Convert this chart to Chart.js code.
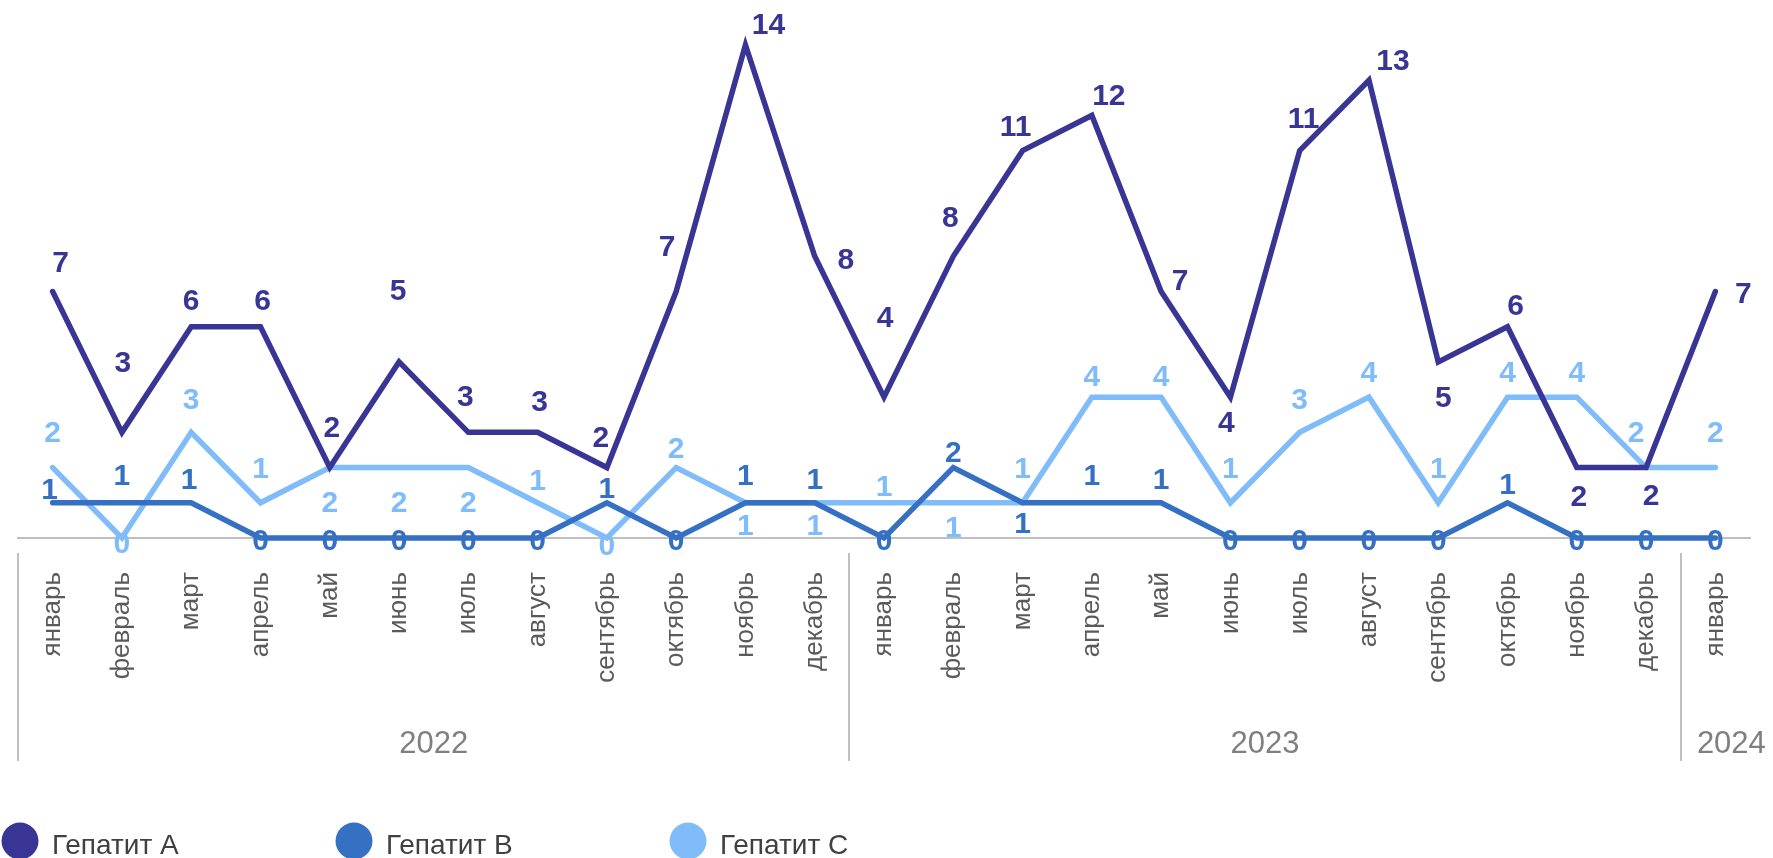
<!DOCTYPE html>
<html>
<head>
<meta charset="utf-8">
<script src="https://cdn.jsdelivr.net/npm/chart.js@4.4.1/dist/chart.umd.min.js"></script>
<style>
    html, body { margin: 0; padding: 0; background: #fff; }
</style>
</head>
<body>
<canvas id="chart" width="1773" height="858"></canvas>
<script>
// Categories: months from January 2022 to January 2024.
const months = [
    "январь", "февраль", "март", "апрель", "май", "июнь", "июль", "август", "сентябрь", "октябрь", "ноябрь", "декабрь",
    "январь", "февраль", "март", "апрель", "май", "июнь", "июль", "август", "сентябрь", "октябрь", "ноябрь", "декабрь",
    "январь"
];
const yearLabels = ["2022", "2023", "2024"];
const yearSpans = [12, 12, 1];

const seriesNames = ["Гепатит A", "Гепатит B", "Гепатит C"];
const hepA = [7, 3, 6, 6, 2, 5, 3, 3, 2, 7, 14, 8, 4, 8, 11, 12, 7, 4, 11, 13, 5, 6, 2, 2, 7];
const hepB = [1, 1, 1, 0, 0, 0, 0, 0, 1, 0, 1, 1, 0, 2, 1, 1, 1, 0, 0, 0, 0, 1, 0, 0, 0];
const hepC = [2, 0, 3, 1, 2, 2, 2, 1, 0, 2, 1, 1, 1, 1, 1, 4, 4, 1, 3, 4, 1, 4, 4, 2, 2];

const colors = ["#383595", "#3570c3", "#80bcf9"];
const FONT = "'Liberation Sans', Arial, sans-serif";

// Where each value label sits relative to its point (pixels), like the hand-placed labels of the original.
const shiftA = [[8, -30], [1, -71], [0, -27], [2, -27], [2, -41], [-1, -73], [-3, -37], [2, -32], [-6, -31], [-9, -46],
    [23, -22], [31, 2], [1, -81], [-3, -40], [-7, -25], [17, -21], [19, -12], [-4, 24], [4, -33], [24, -21],
    [5, 34], [8, -22], [2, 28], [5, 27], [28, 1]];
const shiftB = [[-3, -14], [0, -28], [-2, -24], [0, 1], [0, 1], [0, 1], [0, 1], [0, 1], [0, -15], [0, 1],
    [0, -28], [0, -24], [0, 1], [0, -16], [0, 20], [0, -28], [0, -24], [0, 1], [0, 1], [0, 1],
    [0, 1], [0, -19], [0, 1], [0, 1], [0, 1]];
const shiftC = [[0, -36], [0, 4], [0, -34], [0, -35], [0, 34], [0, 34], [0, 34], [0, -23], [0, 6], [0, -20],
    [0, 22], [0, 22], [0, -17], [0, 24], [0, -35], [0, -22], [0, -22], [0, -35], [0, -34], [0, -26],
    [0, -35], [0, -26], [0, -26], [-10, -36], [0, -36]];
const labelShifts = [shiftA, shiftB, shiftC];

// Small nudge for the year captions (the last one is drawn a little to the right in the original).
const yearShift = [0, 0, 16];

// Value labels next to each point.
const pointLabels = {
    id: "pointLabels",
    afterDatasetsDraw(chart) {
        const {ctx} = chart;
        ctx.save();
        ctx.font = "bold 30px " + FONT;
        ctx.textAlign = "center";
        ctx.textBaseline = "alphabetic";
        for (let d = chart.data.datasets.length - 1; d >= 0; d--) {
            const dataset = chart.data.datasets[d];
            const meta = chart.getDatasetMeta(d);
            ctx.fillStyle = dataset.borderColor;
            dataset.data.forEach((v, i) => {
                const pt = meta.data[i];
                const [dx, dy] = labelShifts[d][i];
                ctx.fillText(String(v), pt.x + dx, pt.y + dy + 10.7);
            });
        }
        ctx.restore();
    }
};

// Year groups under the month labels, with separator lines.
const yearGroups = {
    id: "yearGroups",
    afterDraw(chart) {
        const {ctx} = chart;
        const xs = chart.scales.x;
        const half = (xs.getPixelForValue(1) - xs.getPixelForValue(0)) / 2;
        ctx.save();
        ctx.strokeStyle = "#bfbfbf";
        ctx.lineWidth = 2;
        ctx.fillStyle = "#7f7f7f";
        ctx.font = "31px " + FONT;
        ctx.textAlign = "center";
        ctx.textBaseline = "middle";
        let start = 0;
        yearLabels.forEach((label, g) => {
            const left = xs.getPixelForValue(start) - half;
            const right = xs.getPixelForValue(start + yearSpans[g] - 1) + half;
            ctx.beginPath();
            ctx.moveTo(Math.round(left), 553);
            ctx.lineTo(Math.round(left), 761);
            ctx.stroke();
            ctx.fillText(label, (left + right) / 2 + yearShift[g], 744);
            start += yearSpans[g];
        });
        ctx.restore();
    }
};

// Legend with round markers, spread along the bottom.
const bottomLegend = {
    id: "bottomLegend",
    afterDraw(chart) {
        const {ctx} = chart;
        ctx.save();
        ctx.font = "28px " + FONT;
        ctx.textBaseline = "middle";
        ctx.textAlign = "left";
        chart.data.datasets.forEach((dataset, d) => {
            const cx = 20 + d * 334;
            ctx.fillStyle = dataset.borderColor;
            ctx.beginPath();
            ctx.arc(cx, 841, 18.5, 0, Math.PI * 2);
            ctx.fill();
            ctx.fillStyle = "#404040";
            ctx.fillText(dataset.label, cx + 32, 846);
        });
        ctx.restore();
    }
};

const lineStyle = (i) => ({
    label: seriesNames[i],
    borderColor: colors[i],
    backgroundColor: colors[i],
    borderWidth: 5.5,
    pointRadius: 0,
    tension: 0,
    clip: false,
});

new Chart(document.getElementById("chart"), {
    type: "line",
    data: {
        labels: months,
        datasets: [
            {...lineStyle(0), data: hepA},
            {...lineStyle(1), data: hepB},
            {...lineStyle(2), data: hepC},
        ]
    },
    options: {
        responsive: false,
        animation: false,
        layout: {padding: {left: 18, right: 23, top: 45, bottom: 0}},
        elements: {
            line: {borderJoinStyle: "miter", borderCapStyle: "round"}
        },
        plugins: {
            legend: {display: false},
            tooltip: {enabled: false},
        },
        scales: {
            x: {
                offset: true,
                grid: {display: false},
                border: {display: true, color: "#bfbfbf", width: 2},
                ticks: {
                    autoSkip: false,
                    minRotation: 90,
                    maxRotation: 90,
                    padding: 26,
                    color: "#5a5a5a",
                    font: {family: FONT, size: 26},
                },
                afterFit(scale) {
                    // Fix the axis height so the plot bottom lands where the original has it.
                    scale.height = 320;
                    scale.paddingLeft = 0;
                    scale.paddingRight = 0;
                }
            },
            y: {
                display: false,
                min: 0,
                max: 14,
            }
        }
    },
    plugins: [pointLabels, yearGroups, bottomLegend],
});
</script>
</body>
</html>
